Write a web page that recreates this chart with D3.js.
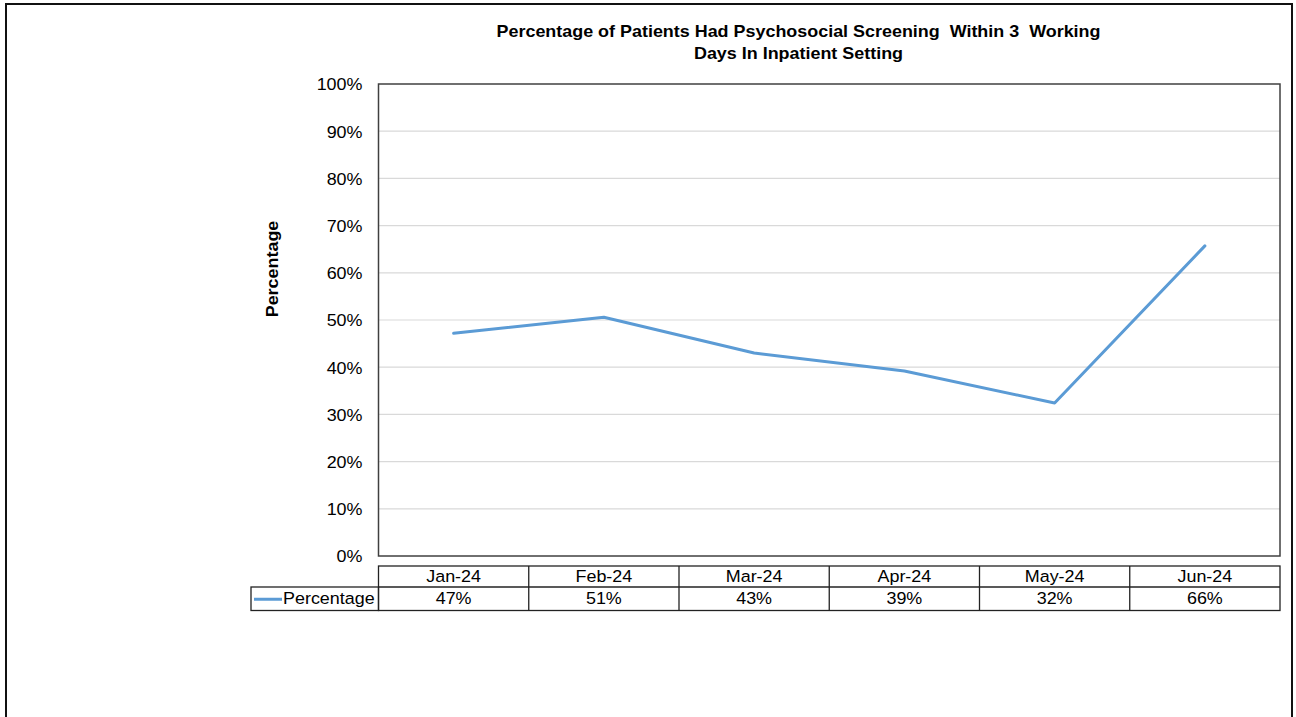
<!DOCTYPE html>
<html>
<head>
<meta charset="utf-8">
<script src="https://cdn.jsdelivr.net/npm/d3@7"></script>
<style>
  html, body { margin: 0; padding: 0; background: #fff; }
  svg { display: block; font-family: "Liberation Sans", Arial, sans-serif; }
</style>
</head>
<body>
<svg id="chart" width="1296" height="717"></svg>
<script>
// Monthly share of inpatients screened within 3 working days
const months = ["Jan-24", "Feb-24", "Mar-24", "Apr-24", "May-24", "Jun-24"];
const percentage = [0.472, 0.506, 0.430, 0.392, 0.324, 0.657];
const yTicks = [0, 0.1, 0.2, 0.3, 0.4, 0.5, 0.6, 0.7, 0.8, 0.9, 1.0];
const seriesName = "Percentage";
const titleLines = ["Percentage of Patients Had Psychosocial Screening  Within 3  Working", "Days In Inpatient Setting"];

const svg = d3.select("#chart");
const plot = { left: 378.5, right: 1280, top: 84, bottom: 556 };
const lineColor = "#5b9bd5";
const fmt = d3.format(".0%");
const WIDE = 1.1;   // slightly wider glyphs than the stock font

// Place a text at (x, y) with horizontally widened glyphs
function placeWide(sel, fx, fy, extra = "") {
  sel.each(function (d, i) {
    const px = typeof fx === "function" ? fx(d, i) : fx;
    const py = typeof fy === "function" ? fy(d, i) : fy;
    d3.select(this).attr("x", 0).attr("y", 0)
      .attr("transform", `translate(${px},${py}) ${extra} scale(${WIDE},1)`);
  });
}

// Outer frame
svg.append("rect")
  .attr("x", 6).attr("y", 4).attr("width", 1286).attr("height", 730)
  .attr("fill", "none").attr("stroke", "#111").attr("stroke-width", 2);

// Title
svg.append("g").selectAll("text").data(titleLines).join("text")
  .attr("text-anchor", "middle")
  .style("white-space", "pre")
  .attr("font-size", 16.3).attr("font-weight", "bold").attr("fill", "#000")
  .text(d => d)
  .call(placeWide, 798.5, (d, i) => 37 + i * 21.5);

const x = d3.scaleBand().domain(months).range([plot.left, plot.right]);
const y = d3.scaleLinear().domain([0, 1]).range([plot.bottom, plot.top]);

// Gridlines
svg.append("g").selectAll("line").data(yTicks.filter(t => t > 0 && t < 1)).join("line")
  .attr("x1", plot.left).attr("x2", plot.right)
  .attr("y1", d => y(d)).attr("y2", d => y(d))
  .attr("stroke", "#d9d9d9").attr("stroke-width", 1.2);

// Y axis labels
const yAxis = svg.append("g")
  .attr("transform", `translate(${plot.left},0)`)
  .call(d3.axisLeft(y).tickValues(yTicks).tickFormat(fmt).tickSize(0).tickPadding(16));
yAxis.select(".domain").remove();
yAxis.selectAll("text")
  .attr("font-family", "'Liberation Sans', Arial, sans-serif")
  .attr("font-size", 16.3).attr("fill", "#000")
  .attr("dy", null)
  .call(placeWide, -16, 5.8);

// Plot frame
svg.append("rect")
  .attr("x", plot.left).attr("y", plot.top)
  .attr("width", plot.right - plot.left).attr("height", plot.bottom - plot.top)
  .attr("fill", "none").attr("stroke", "#404040").attr("stroke-width", 1.5);

// Y axis title
svg.append("text")
  .attr("text-anchor", "middle")
  .attr("font-size", 16.3).attr("font-weight", "bold").attr("fill", "#000")
  .text(seriesName)
  .call(placeWide, 278, 269, "rotate(-90)");

// Series line
const line = d3.line()
  .x((d, i) => x(months[i]) + x.bandwidth() / 2)
  .y(d => y(d));
svg.append("path")
  .datum(percentage)
  .attr("d", line)
  .attr("fill", "none").attr("stroke", lineColor)
  .attr("stroke-width", 3).attr("stroke-linejoin", "round").attr("stroke-linecap", "round");

// Data table below the plot
const tbl = { top: 566, mid: 587, bottom: 610.5, legendLeft: 251 };
const tg = svg.append("g");
tg.append("rect")
  .attr("x", plot.left).attr("y", tbl.top)
  .attr("width", plot.right - plot.left).attr("height", tbl.bottom - tbl.top)
  .attr("fill", "none").attr("stroke", "#222").attr("stroke-width", 1.3);
tg.append("rect")
  .attr("x", tbl.legendLeft).attr("y", tbl.mid)
  .attr("width", plot.left - tbl.legendLeft).attr("height", tbl.bottom - tbl.mid)
  .attr("fill", "none").attr("stroke", "#222").attr("stroke-width", 1.3);
tg.append("line")
  .attr("x1", plot.left).attr("x2", plot.right)
  .attr("y1", tbl.mid).attr("y2", tbl.mid)
  .attr("stroke", "#222").attr("stroke-width", 1.3);
tg.selectAll("line.col").data(months.slice(1)).join("line")
  .attr("class", "col")
  .attr("x1", d => x(d)).attr("x2", d => x(d))
  .attr("y1", tbl.top).attr("y2", tbl.bottom)
  .attr("stroke", "#222").attr("stroke-width", 1.3);

tg.selectAll("text.month").data(months).join("text")
  .attr("class", "month")
  .attr("text-anchor", "middle").attr("font-size", 16.3).attr("fill", "#000")
  .text(d => d)
  .call(placeWide, d => x(d) + x.bandwidth() / 2, 582.3);
tg.selectAll("text.val").data(percentage).join("text")
  .attr("class", "val")
  .attr("text-anchor", "middle").attr("font-size", 16.3).attr("fill", "#000")
  .text(d => fmt(d))
  .call(placeWide, (d, i) => x(months[i]) + x.bandwidth() / 2, 603.5);

// Legend key in the table
tg.append("line")
  .attr("x1", 254).attr("x2", 282)
  .attr("y1", (tbl.mid + tbl.bottom) / 2 + 0.5).attr("y2", (tbl.mid + tbl.bottom) / 2 + 0.5)
  .attr("stroke", lineColor).attr("stroke-width", 3);
tg.append("text")
  .attr("font-size", 16.3).attr("fill", "#000")
  .text(seriesName)
  .call(placeWide, 283, 603.5);
</script>
</body>
</html>
